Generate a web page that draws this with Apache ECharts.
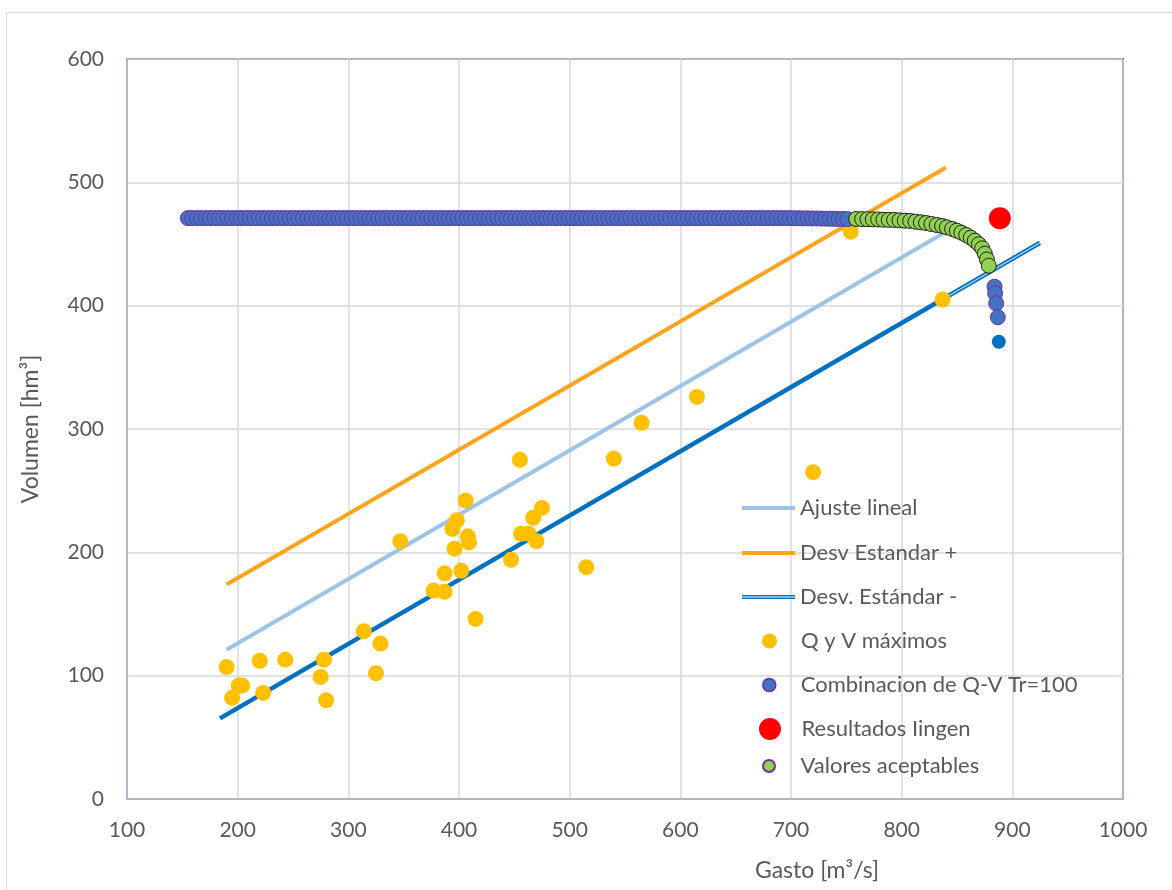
<!DOCTYPE html>
<html><head><meta charset="utf-8">
<script src="https://cdn.jsdelivr.net/npm/echarts@6/dist/echarts.min.js"></script>
<style>html,body{margin:0;padding:0;background:#fff}#c{width:1172px;height:890px}</style>
</head><body><div id="c"></div>
<script>
// ---- data ----
const xAxisRange = [100, 1000, 100];   // min, max, interval
const yAxisRange = [0, 600, 100];

const ajusteQ = [190, 840];
const ajusteV = [121, 460];
const desvMasQ = [190, 840];
const desvMasV = [174, 512];
const desvMenosQ = [184, 925];
const desvMenosV = [65.4, 451];
const desvMenosDobleQ = [843, 925];
const desvMenosDobleV = [408.3, 451];

const maxQ = [190,201,204,195,220,223,243,278,275,280,314,329,325,347,377,387,387,402,396,394,398,406,408,409,415,455,456,463,467,475,470,447,515,540,565,615,720,754,837];
const maxV = [107,92,92,82,112,86,113,113,99,80,136,126,102,209,169,168,183,185,203,219,226,242,213,208,146,275,215,215,228,236,209,194,188,276,305,326,265,460,405];

const comboQ = [155,159,163,167,171,175,179,183,187,191,195,199,203,207,211,215,219,223,227,231,235,239,243,247,251,255,259,263,267,271,275,279,283,287,291,295,299,303,307,311,315,319,323,327,331,335,339,343,347,351,355,359,363,367,371,375,379,383,387,391,395,399,403,407,411,415,419,423,427,431,435,439,443,447,451,455,459,463,467,471,475,479,483,487,491,495,499,503,507,511,515,519,523,527,531,535,539,543,547,551,555,559,563,567,571,575,579,583,587,591,595,599,603,607,611,615,619,623,627,631,635,639,643,647,651,655,659,663,667,671,675,679,683,687,691,695,699,703,707,711,715,719,723,727,731,735,739,743,747,751,883.9,884.5,885.4,886.9];
const comboV = [471,471,471,471,471,471,471,471,471,471,471,471,471,471,471,471,471,471,471,471,471,471,471,471,471,471,471,471,471,471,471,471,471,471,471,471,471,471,471,471,471,471,471,471,471,471,471,471,471,471,471,471,471,471,471,471,471,471,471,471,471,471,471,471,471,471,471,471,471,471,471,471,471,471,471,471,471,471,471,471,471,471,471,471,471,471,471,471,471,471,471,471,471,471,471,471,471,471,471,471,471,471,471,471,471,471,471,471,471,471,471,471,471,471,471,471,471,471,471,471,471,471,471,471,471,471,471,471,471,471,471,471,471,471,471,471,471,470.9,470.9,470.8,470.8,470.7,470.7,470.6,470.5,470.5,470.4,470.3,470.3,470.2,415.4,410.0,401.9,390.6];

const puntoAzulQ = [887.8];
const puntoAzulV = [370.8];

const iingenQ = [888.7];
const iingenV = [470.8];

const aceptQ = [758.9,764.3,769.1,773.9,778.8,783.5,788.3,793.2,798.0,802.8,807.7,812.5,817.3,822.1,826.9,831.7,836.6,840.8,845.6,849.8,854.0,858.3,862.4,866.1,869.7,872.8,875.1,877.0,878.7];
const aceptV = [470.3,470.2,470.1,470.0,469.9,469.7,469.6,469.5,469.2,468.9,468.7,468.1,467.6,467.0,466.2,465.4,464.6,463.5,462.2,460.8,459.2,457.3,455.1,452.7,449.8,446.5,442.2,437.5,432.4];

const names = ['Ajuste lineal','Desv Estandar +','Desv. Estándar -','Q y V máximos','Combinacion de Q-V Tr=100','Resultados Iingen','Valores aceptables'];

// ---- build ----
const pairs = (xs, ys) => xs.map((x, i) => [x, ys[i]]);
const FONT = 'Lato';
const TXT = '#595959';

const legendRows = [508, 553, 597, 641, 685, 729, 766];
const legendSpec = [
  {left: 742, icon: 'rect', h: 4, style: {borderWidth: 0}},
  {left: 742, icon: 'rect', h: 4, style: {borderWidth: 0}},
  {left: 742, icon: 'path://M0,0H53V1.5H0Z M0,2.5H53V4H0Z', h: 4, style: {borderWidth: 0}},
  {left: 762, icon: 'circle', h: 15, style: {borderWidth: 0, opacity: 1}},
  {left: 762, icon: 'circle', h: 13, style: {borderColor: '#7030A0', borderWidth: 1.5, opacity: 1}},
  {left: 759, icon: 'circle', h: 22, style: {borderWidth: 0, opacity: 1}},
  {left: 762, icon: 'circle', h: 12, style: {borderColor: '#7030A0', borderWidth: 2, opacity: 1}}
];
const legends = names.map((n, i) => ({
  show: true,
  left: legendSpec[i].left,
  top: legendRows[i] - 11,
  padding: 0,
  itemWidth: 53,
  itemHeight: legendSpec[i].h,
  selectedMode: false,
  data: [{name: n, icon: legendSpec[i].icon, itemStyle: legendSpec[i].style}],
  textStyle: {fontFamily: FONT, fontSize: 22, color: TXT, lineHeight: 22, padding: [0,0,0,0]}
}));

const option = {
  animation: false,
  backgroundColor: '#fff',
  graphic: [{
    type: 'rect', shape: {x: 6.5, y: 12.5, width: 1200, height: 900},
    style: {fill: 'none', stroke: '#D9D9D9', lineWidth: 1}, silent: true, z: -10
  }],
  legend: legends,
  grid: {left: 127, top: 59, width: 996, height: 740, show: true, borderColor: '#7030A0', borderWidth: 2, backgroundColor: 'transparent'},
  xAxis: {
    type: 'value', min: xAxisRange[0], max: xAxisRange[1], interval: xAxisRange[2],
    name: 'Gasto [m³/s]', nameLocation: 'middle', nameGap: 60,
    nameTextStyle: {fontFamily: FONT, fontSize: 23, color: TXT, padding: [0, 0, 0, 384]},
    axisLine: {show: true, onZero: false, lineStyle: {color: '#BAB0C8', width: 2}},
    axisTick: {show: false},
    axisLabel: {fontFamily: FONT, fontSize: 21, color: TXT, margin: 21, formatter: v => String(v)},
    splitLine: {show: true, lineStyle: {color: '#D9D9D9', width: 1.5}}
  },
  yAxis: {
    type: 'value', min: yAxisRange[0], max: yAxisRange[1], interval: yAxisRange[2],
    name: 'Volumen [hm³]', nameLocation: 'middle', nameGap: 85,
    nameTextStyle: {fontFamily: FONT, fontSize: 23, color: TXT},
    axisLine: {show: true, onZero: false, lineStyle: {color: '#BAB0C8', width: 2}},
    axisTick: {show: false},
    axisLabel: {fontFamily: FONT, fontSize: 21, color: TXT, margin: 23, formatter: v => String(v)},
    splitLine: {show: true, lineStyle: {color: '#D9D9D9', width: 1.5}}
  },
  series: [
    {name: names[0], type: 'line', data: pairs(ajusteQ, ajusteV), symbol: 'none', color: '#9DC3E6',
     lineStyle: {width: 4, color: '#9DC3E6'}, z: 2},
    {name: names[1], type: 'line', data: pairs(desvMasQ, desvMasV), symbol: 'none', color: '#FFA41F',
     lineStyle: {width: 4, color: '#FFA41F'}, z: 2},
    {name: names[2], type: 'line', data: pairs(desvMenosQ, desvMenosV), symbol: 'none', color: '#0070C0',
     lineStyle: {width: 4.5, color: '#0070C0'}, z: 2},
    {name: 'doble', type: 'line', data: pairs(desvMenosDobleQ, desvMenosDobleV), symbol: 'none',
     lineStyle: {width: 1.2, color: '#BDD7EE'}, z: 2, silent: true},
    {name: names[3], type: 'scatter', data: pairs(maxQ, maxV), symbol: 'circle', symbolSize: 16,
     color: '#FFC000', itemStyle: {color: '#FFC000', opacity: 1}, z: 3},
    {name: names[4], type: 'scatter', data: pairs(comboQ, comboV), symbol: 'circle', symbolSize: 15,
     color: '#4472C4', itemStyle: {color: '#4472C4', borderColor: '#7030A0', borderWidth: 1, opacity: 1}, z: 4},
    {name: 'azul', type: 'scatter', data: pairs(puntoAzulQ, puntoAzulV), symbol: 'circle', symbolSize: 14,
     itemStyle: {color: '#0070C0', opacity: 1}, z: 4},
    {name: names[6], type: 'scatter', data: pairs(aceptQ, aceptV), symbol: 'circle', symbolSize: 15,
     color: '#92D050', itemStyle: {color: '#92D050', borderColor: '#1E1E1E', borderWidth: 1, opacity: 1}, z: 5},
    {name: names[5], type: 'scatter', data: pairs(iingenQ, iingenV), symbol: 'circle', symbolSize: 22,
     color: '#FF0000', itemStyle: {color: '#FF0000', opacity: 1}, z: 5}
  ]
};

const chart = echarts.init(document.getElementById('c'), null, {renderer: 'canvas'});
chart.setOption(option);
</script>
</body></html>
